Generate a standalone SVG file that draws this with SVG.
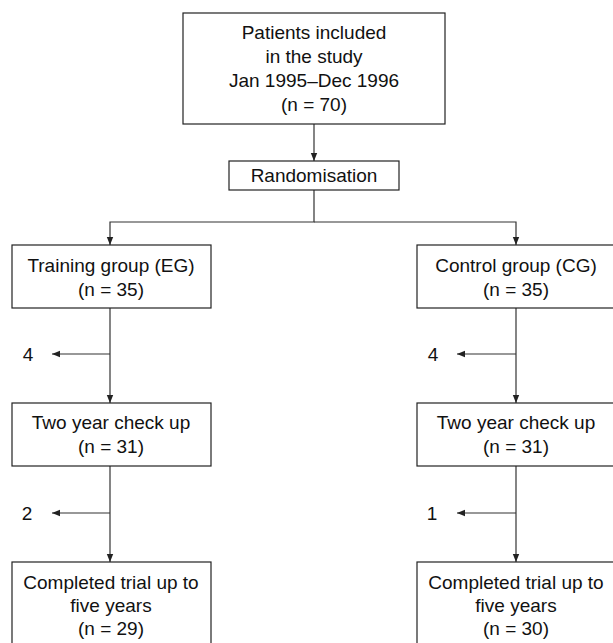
<svg xmlns="http://www.w3.org/2000/svg" width="613" height="643" viewBox="0 0 613 643">
<style>
.box{fill:#fff;stroke:#222;stroke-width:1.2}
.t{font-family:"Liberation Sans",Arial,sans-serif;font-size:19px;fill:#111;text-anchor:middle}
.c{fill:none;stroke:#333;stroke-width:1.2}
</style>
<defs>
<marker id="ah" viewBox="0 0 10 10" refX="10" refY="5" markerWidth="8" markerHeight="8" markerUnits="userSpaceOnUse" orient="auto">
<path d="M0,1 L10,5 L0,9 Z" fill="#222"/>
</marker>
</defs>
<rect width="613" height="643" fill="#fff"/>
<g id="connectors">
<line class="c" x1="314" y1="124" x2="314" y2="161" marker-end="url(#ah)"/>
<polyline class="c" points="314,190 314,222 110,222 110,245" marker-end="url(#ah)"/>
<polyline class="c" points="314,222 516,222 516,245" marker-end="url(#ah)"/>
<line class="c" x1="110" y1="308" x2="110" y2="403" marker-end="url(#ah)"/>
<line class="c" x1="516" y1="308" x2="516" y2="403" marker-end="url(#ah)"/>
<line class="c" x1="110" y1="354" x2="52" y2="354" marker-end="url(#ah)"/>
<line class="c" x1="516" y1="354" x2="457" y2="354" marker-end="url(#ah)"/>
<line class="c" x1="110" y1="466" x2="110" y2="562" marker-end="url(#ah)"/>
<line class="c" x1="516" y1="466" x2="516" y2="562" marker-end="url(#ah)"/>
<line class="c" x1="110" y1="513" x2="52" y2="513" marker-end="url(#ah)"/>
<line class="c" x1="516" y1="513" x2="457" y2="513" marker-end="url(#ah)"/>
</g>
<g id="patients">
<rect class="box" x="183" y="13" width="262" height="111"/>
<text class="t" x="314" y="39">Patients included</text>
<text class="t" x="314" y="63">in the study</text>
<text class="t" x="314" y="87">Jan 1995–Dec 1996</text>
<text class="t" x="314" y="111">(n = 70)</text>
</g>
<g id="randomisation">
<rect class="box" x="229" y="161" width="170" height="29"/>
<text class="t" x="314" y="182">Randomisation</text>
</g>
<g id="training">
<rect class="box" x="12" y="245" width="199" height="63"/>
<text class="t" x="111" y="272">Training group (EG)</text>
<text class="t" x="111" y="296">(n = 35)</text>
</g>
<g id="control">
<rect class="box" x="417" y="245" width="198" height="63"/>
<text class="t" x="516" y="272">Control group (CG)</text>
<text class="t" x="516" y="296">(n = 35)</text>
</g>
<g id="drop-eg-1"><text class="t" x="28" y="361">4</text></g>
<g id="drop-cg-1"><text class="t" x="433" y="361">4</text></g>
<g id="twoyear-eg">
<rect class="box" x="12" y="403" width="199" height="63"/>
<text class="t" x="111" y="429">Two year check up</text>
<text class="t" x="111" y="453">(n = 31)</text>
</g>
<g id="twoyear-cg">
<rect class="box" x="417" y="403" width="198" height="63"/>
<text class="t" x="516" y="429">Two year check up</text>
<text class="t" x="516" y="453">(n = 31)</text>
</g>
<g id="drop-eg-2"><text class="t" x="27" y="520">2</text></g>
<g id="drop-cg-2"><text class="t" x="432" y="520">1</text></g>
<g id="final-eg">
<rect class="box" x="12" y="562" width="199" height="90"/>
<text class="t" x="111" y="589">Completed trial up to</text>
<text class="t" x="111" y="612">five years</text>
<text class="t" x="111" y="635">(n = 29)</text>
</g>
<g id="final-cg">
<rect class="box" x="417" y="562" width="198" height="90"/>
<text class="t" x="516" y="589">Completed trial up to</text>
<text class="t" x="516" y="612">five years</text>
<text class="t" x="516" y="635">(n = 30)</text>
</g>
</svg>
